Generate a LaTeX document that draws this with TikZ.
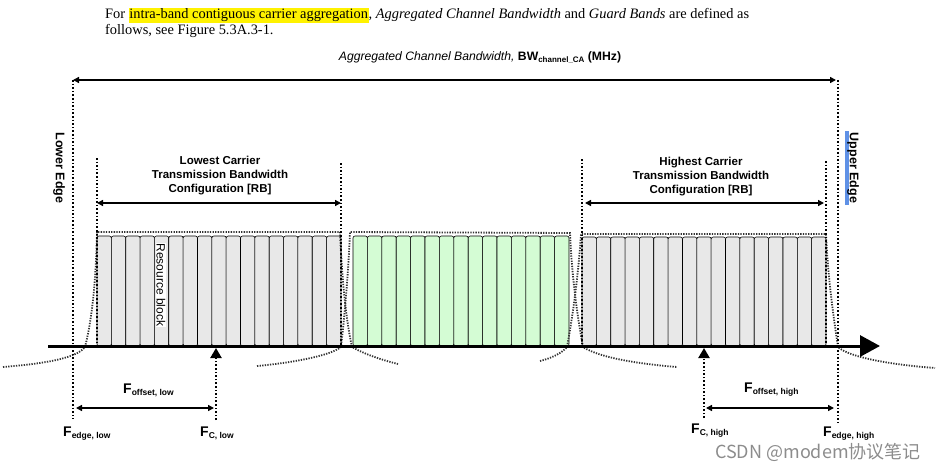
\documentclass[tikz,border=0pt]{standalone}
\usepackage{fontspec}
\setmainfont{Liberation Serif}
\setsansfont{Liberation Sans}
\newfontfamily\cjkfont{Noto Sans CJK SC}
\usepackage{xcolor}
\usetikzlibrary{arrows.meta,positioning,calc}

\definecolor{rbgray}{RGB}{232,232,232}
\definecolor{rbgreen}{RGB}{212,252,212}
\definecolor{selblue}{RGB}{95,145,230}
\newcommand{\fsub}[1]{F\raisebox{-2.5pt}{\fontsize{8.5}{9}\selectfont #1}}

\begin{document}
\begin{tikzpicture}[
    x=1pt, y=-1pt,
    edgeline/.style={line width=2.2pt, dash pattern=on 1.6pt off 2pt},
    maskline/.style={line width=1.8pt, dash pattern=on 1.3pt off 1.3pt, black!80},
    dimarrow/.style={{Triangle[length=6pt,width=6pt]}-{Triangle[length=6pt,width=6pt]}, line width=1.4pt},
    rb/.style={draw, line width=0.6pt, rounded corners=2pt},
    lbl/.style={font=\sffamily\bfseries\fontsize{11.5}{14}\selectfont, align=center},
    flbl/.style={font=\sffamily\bfseries\fontsize{14}{16}\selectfont, anchor=base west, inner sep=0pt}
]
\useasboundingbox (0,0) rectangle (942,468);

% intro text
\node[anchor=base west, inner sep=0pt, font=\fontsize{14.4}{16}\selectfont] (line1) at (105,19)
  {For {\fboxsep=0.6pt\colorbox{yellow}{intra-band contiguous carrier aggregation}}, \textit{Aggregated Channel Bandwidth} and \textit{Guard Bands} are defined as};
\node[anchor=base west, inner sep=0pt, font=\fontsize{14.4}{16}\selectfont] (line2) at (105,35)
  {follows, see Figure 5.3A.3-1.};

% aggregated bandwidth
\node[font=\sffamily\fontsize{12.2}{14}\selectfont] (bwca) at (480,58)
  {\textit{Aggregated Channel Bandwidth,} \textbf{BW\raisebox{-2pt}{\fontsize{8}{9}\selectfont channel\_CA} (MHz)}};
\coordinate (lowtop) at (73,80);
\coordinate (uptop) at (838,80);
\draw[{Triangle[length=6pt,width=6pt]}-{Triangle[length=6pt,width=6pt]}, line width=1.8pt] (lowtop) -- ($(uptop)+(-2,0)$);

% edges
\coordinate (lowbot) at (73,419);
\coordinate (upbot) at (838,423);
\node[font=\sffamily\bfseries\fontsize{12.5}{14}\selectfont, rotate=-90] (lower) at (59,168) {Lower Edge};
\fill[selblue] (845,131) rectangle (849,205);
\node[font=\sffamily\bfseries\fontsize{12.5}{14}\selectfont, rotate=-90] (upper) at (853,168) {Upper Edge};

% resource blocks
\foreach \i in {0,...,16} {
  \draw[rb, fill=rbgray] ({97+\i*14.353},346) rectangle ++(14.353,-110);
}
\foreach \i in {0,...,14} {
  \draw[rb, fill=rbgreen] ({353+\i*14.4},346) rectangle ++(14.4,-110);
}
\foreach \i in {0,...,16} {
  \draw[rb, fill=rbgray] ({582+\i*14.353},346) rectangle ++(14.353,-109);
}
\node[font=\sffamily\fontsize{12}{13}\selectfont, rotate=-90, fill=white, inner sep=0.6pt] (rblock) at (161,285) {Resource block};

% spectrum masks
\draw[maskline] (3,367) .. controls (40,364) and (76,359) .. (85,347)
  .. controls (92,320) and (96,280) .. (97,232) -- (340,232)
  .. controls (342,280) and (346,320) .. (352,347)
  .. controls (364,354) and (382,360) .. (398,364);
\draw[maskline] (257,366) .. controls (290,363) and (330,356) .. (341,347)
  .. controls (344,320) and (348,280) .. (350,232) -- (570,233)
  .. controls (572,280) and (578,320) .. (583,347)
  .. controls (600,358) and (640,364) .. (677,367);
\draw[maskline] (540,361) .. controls (552,358) and (562,353) .. (567,347)
  .. controls (572,320) and (578,280) .. (581,234) -- (826,234)
  .. controls (828,280) and (834,320) .. (838,347)
  .. controls (850,358) and (895,365) .. (935,368);

% configuration limits
\coordinate (cfgA) at (97,158);
\coordinate (cfgB) at (341,163);
\coordinate (cfgC) at (582,159);
\coordinate (cfgD) at (826,161);
\foreach \c in {cfgA,cfgB,cfgC,cfgD} {
  \draw[edgeline] (\c) -- (\c |- 0,346);
}
\draw[edgeline] (lowtop) -- (lowbot);
\draw[edgeline] (uptop) -- (upbot);

\node[lbl] (lowcfg) at (220,176) {Lowest Carrier\\Transmission Bandwidth\\Configuration [RB]};
\node[lbl] (highcfg) at (701,177) {Highest Carrier\\Transmission Bandwidth\\Configuration [RB]};
\draw[dimarrow] (cfgA |- 0,203) -- (cfgB |- 0,203);
\draw[dimarrow] ($(cfgC |- 0,203)+(3,0)$) -- ($(cfgD |- 0,203)+(-2,0)$);

% frequency axis
\coordinate (axstart) at (48,346);
\coordinate (axend) at (880,346);
\draw[line width=3pt, -{Triangle[length=20pt,width=21pt]}] (axstart) -- (axend);

% carrier centres
\coordinate (fclow) at (216,348);
\coordinate (fchigh) at (704,348);
\draw[edgeline, -{Triangle[length=10pt,width=11pt]}] (216,420) -- (fclow);
\draw[edgeline, -{Triangle[length=10pt,width=11pt]}] (704,418) -- (fchigh);

% offsets
\draw[dimarrow] (76,408) -- (214,408);
\draw[dimarrow] (706,408) -- (834,408);
\node[flbl] (foffl) at (123,393) {\fsub{offset, low}};
\node[flbl] (foffh) at (744,392) {\fsub{offset, high}};
\node[flbl] (fedgel) at (63,436) {\fsub{edge, low}};
\node[flbl] (fcl) at (200,436) {\fsub{C, low}};
\node[flbl] (fch) at (691,433) {\fsub{C, high}};
\node[flbl] (fedgeh) at (823,436) {\fsub{edge, high}};

% watermark
\node[font=\cjkfont\fontsize{18}{20}\selectfont, text=black!45] (mark) at (818,452) {CSDN @modem协议笔记};
\end{tikzpicture}
\end{document}
